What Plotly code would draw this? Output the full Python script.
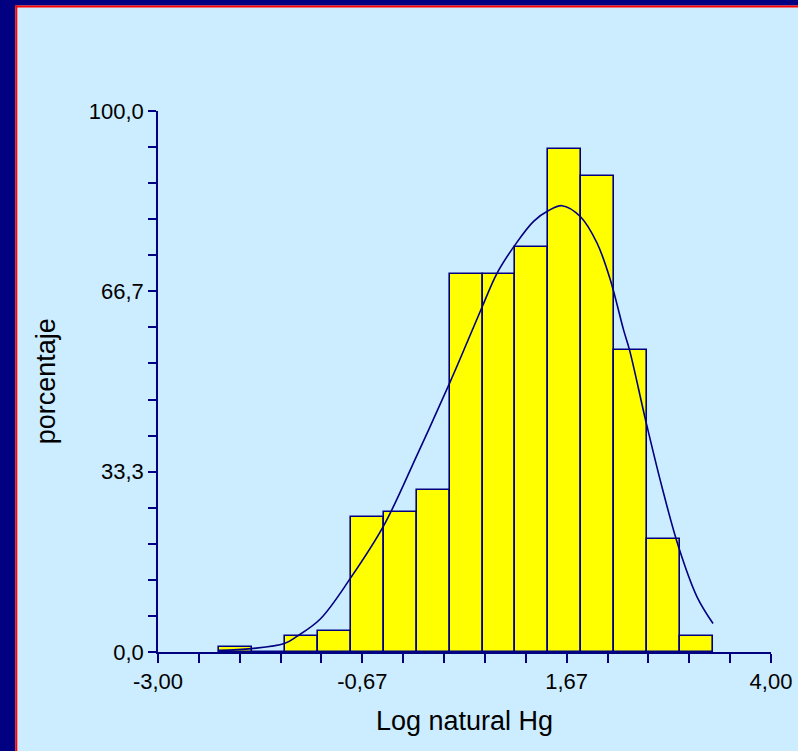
import plotly.graph_objects as go

# ---- data ----
bin_edges = [-2.303, -1.927, -1.551, -1.175, -0.799, -0.423, -0.047, 0.330,
             0.706, 1.082, 1.458, 1.834, 2.210, 2.586, 2.962, 3.338]
percent = [0.93, 0.0, 3.04, 3.89, 24.9, 25.9, 29.9, 69.9, 69.9, 74.9,
           92.9, 87.9, 55.9, 20.9, 3.04]

curve_x = [-2.308, -1.931, -1.558, -1.413, -1.147, -0.804, -0.424, -0.042,
           0.330, 0.529, 0.707, 0.871, 1.080, 1.289, 1.460, 1.613, 1.822,
           2.013, 2.165, 2.317, 2.385, 2.576, 2.755, 2.945, 3.155, 3.338]
curve_y = [0.31, 0.63, 1.55, 2.9, 6.1, 13.6, 23.3, 36.4, 49.7, 57.2, 64.0,
           70.0, 75.3, 79.6, 81.6, 82.5, 80.5, 75.6, 68.8, 59.5, 55.8,
           42.3, 30.5, 19.4, 10.2, 5.26]

x_tick_labels = ["-3,00", "-0,67", "1,67", "4,00"]
y_tick_labels = ["0,0", "33,3", "66,7", "100,0"]
x_title = "Log natural Hg"
y_title = "porcentaje"

# ---- styling / layout ----
NAVY = "#000080"
BG = "#CCECFF"
W, H = 798, 751
L, R, T, B = 157.7, 27.3, 111.4, 99.3
PW, PH = W - L - R, H - T - B
TICK_FONT = dict(family="Liberation Sans, Arial", size=22, color="black")
TITLE_FONT = dict(family="Liberation Sans, Arial", size=27, color="black")


def px2x(px):
    return (px - L) / PW


def py2y(py):
    return (H - B - py) / PH


centers = [(a + b) / 2 for a, b in zip(bin_edges[:-1], bin_edges[1:])]
widths = [b - a for a, b in zip(bin_edges[:-1], bin_edges[1:])]

xmin, xmax = -3.0, 4.0
ymin, ymax = 0.0, 100.0
n_int = 15
x_tickvals = [xmin + k * (xmax - xmin) / n_int for k in range(n_int + 1)]
x_ticktext = [x_tick_labels[k // 5] if k % 5 == 0 else "" for k in range(n_int + 1)]
y_tickvals = [ymin + k * (ymax - ymin) / n_int for k in range(n_int + 1)]
y_ticktext = [y_tick_labels[k // 5] if k % 5 == 0 else "" for k in range(n_int + 1)]

fig = go.Figure()
fig.add_trace(go.Bar(
    x=centers, y=percent, width=widths,
    marker=dict(color="#FFFF00", line=dict(color=NAVY, width=1.6)),
    hoverinfo="x+y", showlegend=False,
))
fig.add_trace(go.Scatter(
    x=curve_x, y=curve_y, mode="lines",
    line=dict(color=NAVY, width=1.6, shape="spline", smoothing=1.0),
    showlegend=False,
))

axis_common = dict(
    showline=True, linecolor=NAVY, linewidth=1.5, mirror=False,
    ticks="outside", tickcolor=NAVY, tickwidth=1.5,
    showgrid=False, zeroline=False, fixedrange=True,
    tickmode="array", tickfont=TICK_FONT,
)
fig.update_xaxes(range=[xmin, xmax], tickvals=x_tickvals, ticktext=x_ticktext,
                 ticklen=9, **axis_common)
fig.update_yaxes(range=[ymin, ymax], tickvals=y_tickvals, ticktext=y_ticktext,
                 ticklen=8, **axis_common)

shapes = [
    dict(type="rect", xref="paper", yref="paper", x0=px2x(-2), x1=px2x(15),
         y0=py2y(H + 2), y1=py2y(-2), fillcolor=NAVY, line=dict(width=0),
         layer="above"),
    dict(type="rect", xref="paper", yref="paper", x0=px2x(-2), x1=px2x(W + 2),
         y0=py2y(6), y1=py2y(-2), fillcolor=NAVY, line=dict(width=0),
         layer="above"),
    dict(type="rect", xref="paper", yref="paper", x0=px2x(15), x1=px2x(17),
         y0=py2y(H + 2), y1=py2y(6), fillcolor="#FF0000", line=dict(width=0),
         layer="above"),
    dict(type="rect", xref="paper", yref="paper", x0=px2x(15), x1=px2x(W + 2),
         y0=py2y(8), y1=py2y(6), fillcolor="#FF0000", line=dict(width=0),
         layer="above"),
]

annotations = [
    dict(text=x_title, xref="paper", yref="paper", x=0.5, y=py2y(721),
         xanchor="center", yanchor="middle", showarrow=False, font=TITLE_FONT),
    dict(text=y_title, xref="paper", yref="paper", x=px2x(46), y=py2y(381),
         xanchor="center", yanchor="middle", showarrow=False, textangle=-90,
         font=TITLE_FONT),
]

fig.update_layout(
    width=W, height=H, autosize=False,
    margin=dict(l=L, r=R, t=T, b=B, pad=0, autoexpand=False),
    paper_bgcolor=BG, plot_bgcolor=BG,
    bargap=0, barmode="overlay",
    shapes=shapes, annotations=annotations,
    showlegend=False,
)

fig.write_html(
    "out.html",
    config={"displayModeBar": False, "staticPlot": False},
    post_script="document.body.style.margin='0';document.body.style.padding='0';"
                "document.documentElement.style.overflow='hidden';",
)
